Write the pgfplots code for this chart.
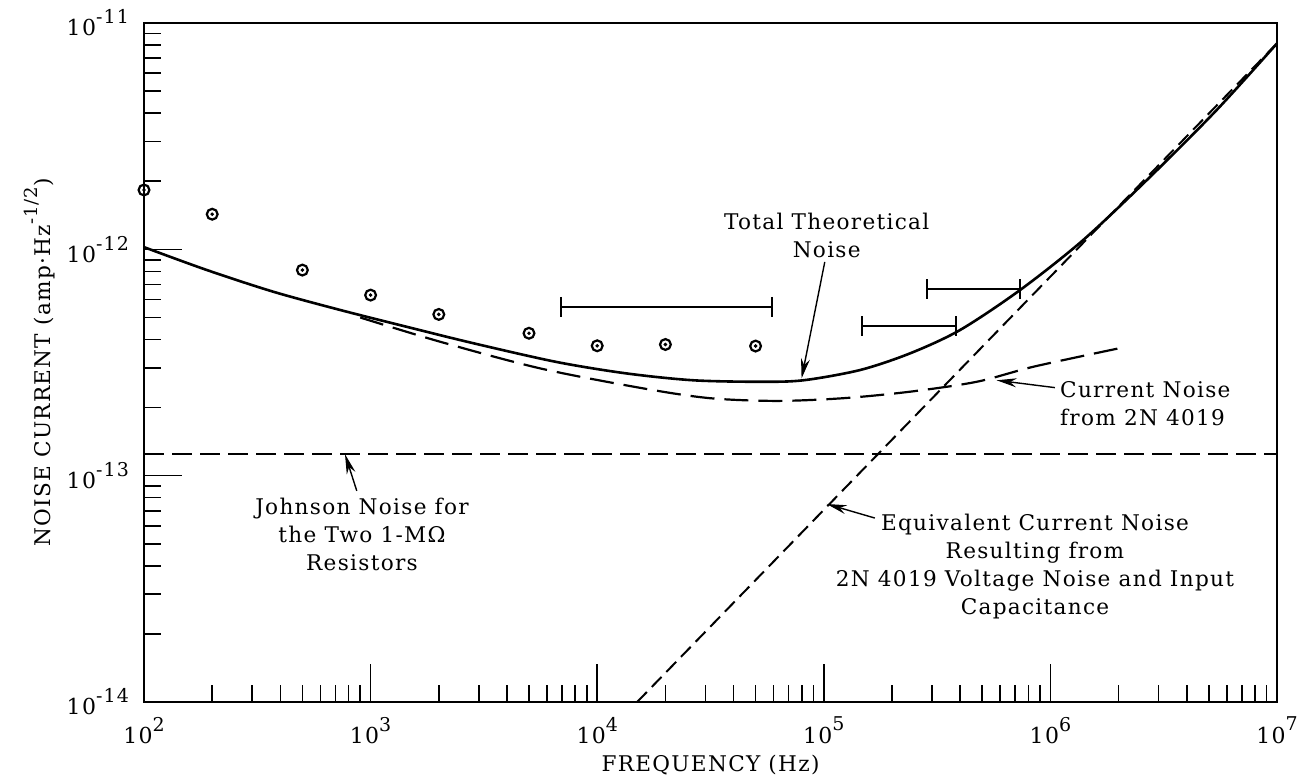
\documentclass[border=0pt]{standalone}
\usepackage{fontspec}
\setmainfont{DejaVu Serif}[LetterSpace=6]
\usepackage{pgfplots}
\pgfplotsset{compat=1.18}
\usetikzlibrary{arrows.meta}
\newcommand{\tenpow}[1]{10\raisebox{0.55em}{\fontsize{9.5}{9.5}\selectfont #1}}
\begin{document}
\begin{tikzpicture}
\useasboundingbox (-72pt,-39pt) rectangle (577pt,351pt);
\begin{axis}[
  xmode=log, ymode=log,
  scale only axis, width=566.5pt, height=339.5pt,
  xmin=1e2, xmax=1e7, ymin=1e-14, ymax=1e-11,
  clip=false,
  axis line style={line width=1.4pt},
  tick style={line width=0.8pt, black},
  tick align=inside,
  xtick pos=left, ytick pos=left,
  major tick length=19pt, minor tick length=8.5pt,
  xtick={1e2,1e3,1e4,1e5,1e6,1e7},
  xticklabels={\tenpow{2},\tenpow{3},\tenpow{4},\tenpow{5},\tenpow{6},\tenpow{7}},
  ytick={1e-14,1e-13,1e-12,1e-11},
  yticklabels={\tenpow{-14},\tenpow{-13},\tenpow{-12},\tenpow{-11}},
  minor xtick={200,300,400,500,600,700,800,900,2000,3000,4000,5000,6000,7000,8000,9000,20000,30000,40000,50000,60000,70000,80000,90000,2e5,3e5,4e5,5e5,6e5,7e5,8e5,9e5,2e6,3e6,4e6,5e6,6e6,7e6,8e6,9e6},
  minor ytick={2e-14,3e-14,4e-14,5e-14,6e-14,7e-14,8e-14,9e-14,2e-13,3e-13,4e-13,5e-13,6e-13,7e-13,8e-13,9e-13,2e-12,3e-12,4e-12,5e-12,6e-12,7e-12,8e-12,9e-12},
  tick label style={font=\fontsize{11}{13}\selectfont},
  xticklabel style={yshift=-4pt},
  yticklabel style={xshift=-4pt},
  xlabel={FREQUENCY (Hz)},
  ylabel={NOISE CURRENT (amp·Hz\raisebox{0.6em}{\fontsize{9}{9}\selectfont -1/2})},
  label style={font=\fontsize{10.8}{12}\selectfont},
  xlabel style={at={(axis description cs:0.5,-0.093)}, anchor=center},
  ylabel style={at={(axis description cs:-0.092,0.5)}, anchor=center},
]
% Total theoretical noise
\addplot[black, line width=1.3pt, smooth] coordinates {
 (100,1.023e-12) (189,8.11e-13) (372,6.50e-13) (733,5.40e-13) (1442,4.55e-13)
 (2838,3.85e-13) (6622,3.18e-13) (13490,2.83e-13) (26550,2.64e-13) (52240,2.60e-13)
 (81280,2.64e-13) (144500,2.93e-13) (239900,3.47e-13) (399000,4.40e-13)
 (734500,6.61e-13) (1.396e6,1.10e-12) (2.754e6,2.09e-12) (5.42e6,4.13e-12) (1e7,8.13e-12)
};
% Current noise from 2N 4019
\addplot[black, line width=1.1pt, smooth, dash pattern=on 12pt off 5pt] coordinates {
 (900,5.0e-13) (2023,3.91e-13) (5598,2.98e-13) (16000,2.43e-13) (31480,2.20e-13)
 (61940,2.14e-13) (121900,2.20e-13) (239900,2.35e-13) (473200,2.60e-13)
 (841400,3.03e-13) (1.995e6,3.65e-13)
};
% Johnson noise
\addplot[black, line width=1.1pt, dash pattern=on 10pt off 4pt] coordinates {
 (100,1.25e-13) (1e7,1.25e-13)
};
% Equivalent current noise (voltage noise and input capacitance)
\addplot[black, line width=1pt, dash pattern=on 7pt off 3.5pt] coordinates {
 (1.5e4,1e-14) (1e7,8.13e-12)
};
% Measured points
\addplot[black, only marks, mark=o, mark size=2.7pt, mark options={line width=1.1pt}] coordinates {
 (100,1.83e-12) (200,1.43e-12) (500,8.1e-13) (1000,6.28e-13) (2000,5.16e-13)
 (5000,4.26e-13) (10000,3.75e-13) (20000,3.80e-13) (50000,3.74e-13)
};
\addplot[black, only marks, mark=*, mark size=0.7pt] coordinates {
 (100,1.83e-12) (200,1.43e-12) (500,8.1e-13) (1000,6.28e-13) (2000,5.16e-13)
 (5000,4.26e-13) (10000,3.75e-13) (20000,3.80e-13) (50000,3.74e-13)
};
% Horizontal bars
\addplot[black, line width=1.1pt, mark=|, mark size=5pt, mark options={line width=1.1pt}] coordinates {(6918,5.57e-13) (59300,5.57e-13)};
\addplot[black, line width=1.1pt, mark=|, mark size=5pt, mark options={line width=1.1pt}] coordinates {(1.475e5,4.58e-13) (3.83e5,4.58e-13)};
\addplot[black, line width=1.1pt, mark=|, mark size=5pt, mark options={line width=1.1pt}] coordinates {(2.85e5,6.68e-13) (7.35e5,6.68e-13)};
% Annotations
\draw[line width=0.7pt, -{Stealth[length=10pt,width=4.5pt]}] (axis cs:1.01e5,8.8e-13) -- (axis cs:7.98e4,2.69e-13);
\draw[line width=0.7pt, -{Stealth[length=10pt,width=4.5pt]}] (axis cs:1.047e6,2.45e-13) -- (axis cs:5.79e5,2.64e-13);
\draw[line width=0.7pt, -{Stealth[length=10pt,width=4.5pt]}] (axis cs:869,8.57e-14) -- (axis cs:771,1.245e-13);
\draw[line width=0.7pt, -{Stealth[length=10pt,width=4.5pt]}] (axis cs:1.68e5,6.5e-14) -- (axis cs:1.03e5,7.5e-14);
\node[align=center, font=\fontsize{10.8}{14}\selectfont] at (axis cs:1.03e5,1.156e-12) {Total Theoretical\\Noise};
\node[align=left, anchor=west, inner sep=0pt, font=\fontsize{10.8}{14}\selectfont] at (axis cs:1.10e6,2.09e-13) {Current Noise\\from 2N 4019};
\node[align=center, font=\fontsize{10.8}{14}\selectfont] at (axis cs:916,5.52e-14) {Johnson Noise for\\the Two 1-MΩ\\Resistors};
\node[align=center, font=\fontsize{10.8}{14}\selectfont] at (axis cs:8.55e5,3.98e-14) {Equivalent Current Noise\\Resulting from\\2N 4019 Voltage Noise and Input\\Capacitance};
\end{axis}
\end{tikzpicture}
\end{document}
